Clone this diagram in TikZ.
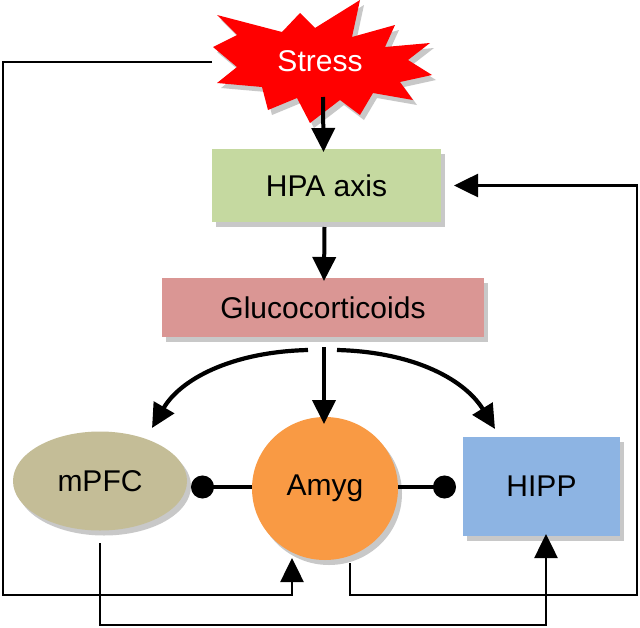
\documentclass[tikz,border=0pt]{standalone}
\usepackage{fontspec}
\setmainfont{Liberation Sans}
\usetikzlibrary{arrows.meta,shapes.geometric,shadows,calc}
\definecolor{stressred}{HTML}{FF0000}
\definecolor{hpagreen}{HTML}{C5D9A0}
\definecolor{glucopink}{HTML}{DA9694}
\definecolor{mpfctan}{HTML}{C4BD97}
\definecolor{amygorange}{HTML}{F99A44}
\definecolor{hippblue}{HTML}{8DB4E3}
\begin{document}
\begin{tikzpicture}[x=1pt,y=-1pt,
  shad/.style={drop shadow={shadow xshift=4pt,shadow yshift=-5pt,opacity=0.3,fill=black!70}},
  lbl/.style={font=\fontsize{30}{32}\selectfont, inner sep=0pt, outer sep=0pt},
  boxnode/.style={lbl, shape=rectangle, shad},
  ellnode/.style={lbl, shape=ellipse, shad},
  tip/.style={-{Triangle[length=24pt,width=23pt]}},
  mainarr/.style={tip, line width=4pt},
  curvarr/.style={tip, line width=4.2pt},
  looparr/.style={tip, line width=2.6pt},
  inhib/.style={-{Circle[length=23pt,width=23pt]}, line width=3.2pt}
]
\fill[white] (0,0) rectangle (640,627);
\useasboundingbox (0,0) rectangle (640,627);

% Stress starburst
\path[fill=stressred, shad] (217,15) -- (282,32) -- (300,13) -- (315,28) -- (360,0) -- (352,37)
  -- (395,25) -- (385,47) -- (430,43) -- (408,60) -- (432,75) -- (400,82) -- (413,100)
  -- (373,93) -- (360,115) -- (340,100) -- (310,123) -- (297,98) -- (268,110) -- (262,87)
  -- (217,83) -- (237,67) -- (213,47) -- (237,35) -- cycle;
\node[lbl, text=white] (stress) at (320,61) {Stress};

% Boxes
\node[boxnode, fill=hpagreen, minimum width=229pt, minimum height=73pt] (hpa) at (326.5,185.5) {HPA axis};
\node[boxnode, fill=glucopink, minimum width=322pt, minimum height=59pt] (gluco) at (323,307.5) {Glucocorticoids};
\node[ellnode, fill=mpfctan, minimum width=174pt, minimum height=99pt] (mpfc) at (100,481) {mPFC};
\node[ellnode, fill=amygorange, minimum width=146pt, minimum height=143pt] (amyg) at (325,488.5) {Amyg};
\node[boxnode, fill=hippblue, minimum width=157pt, minimum height=99pt] (hipp) at (541.5,486.5) {HIPP};

% Main arrows
\draw[mainarr] ($(stress.center)+(3,36)$) -- ($(hpa.north)+(-3,3)$);
\draw[mainarr] ($(hpa.south)+(-2,5)$) -- ($(gluco.north)+(1,3)$);
\draw[mainarr] ($(gluco.south)+(1,10)$) -- ($(amyg.north)+(-1,7)$);
\draw[curvarr] ($(gluco.south)+(-15,13)$) .. controls (230,352) and (180,380) .. (152,428);
\draw[curvarr] ($(gluco.south)+(14,13)$) .. controls (415,352) and (465,380) .. (495,429);

% Inhibitory connections
\coordinate (dl) at (191,487);
\coordinate (dr) at (456,487);
\draw[inhib] (amyg.west |- dl) -- (dl);
\draw[inhib] (amyg.east |- dr) -- (dr);

% Feedback loops
\coordinate (sl) at (212,62);
\coordinate (ma) at (100,543);
\coordinate (ab) at (350,563);
\draw[looparr] (sl) -- (3,62) -- (3,595) -| ($(amyg.south)+(-33,-2)$);
\draw[looparr] (ma) |- (546,625) -- ($(hipp.south)+(4.5,-2)$);
\draw[looparr] (ab) |- (637,595) |- ($(hpa.east)+(13,0)$);
\end{tikzpicture}
\end{document}
